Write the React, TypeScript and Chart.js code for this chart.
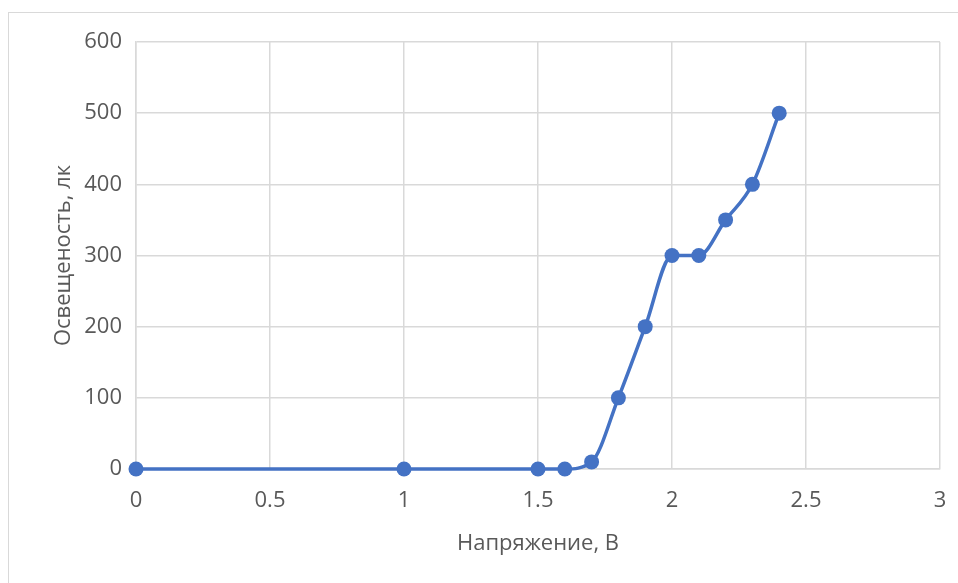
import React, { useEffect, useRef } from "react";
import { Chart, registerables } from "chart.js";

Chart.register(...registerables);

const voltages = [0, 1, 1.5, 1.6, 1.7, 1.8, 1.9, 2, 2.1, 2.2, 2.3, 2.4];
const illuminance = [0, 0, 0, 0, 10, 100, 200, 300, 300, 350, 400, 500];
const xTitle = "Напряжение, В";
const yTitle = "Освещеность, лк";

const FONT = "'Open Sans', 'DejaVu Sans', sans-serif";
const TEXT = "#595959";
const GRID = "#d9d9d9";
const BLUE = "#4472C4";
const FS = 22;

export default function App() {
  const ref = useRef<HTMLCanvasElement>(null);
  useEffect(() => {
    if (!ref.current) return;
    const chart = new Chart(ref.current, {
      type: "scatter",
      data: {
        datasets: [
          {
            data: voltages.map((v, i) => ({ x: v, y: illuminance[i] })),
            showLine: true,
            borderColor: BLUE,
            backgroundColor: BLUE,
            borderWidth: 3.5,
            pointRadius: 7.5,
            pointBorderWidth: 0,
            cubicInterpolationMode: "monotone",
            clip: false,
          } as any,
        ],
      },
      options: {
        responsive: false,
        animation: false,
        layout: { padding: { left: 0, right: 18, top: 42, bottom: 0 } },
        plugins: { legend: { display: false }, tooltip: { enabled: false } },
        scales: {
          x: {
            type: "linear",
            min: 0,
            max: 3,
            afterFit: (s: any) => {
              s.height = 114;
              s.paddingRight = 0;
              s.paddingLeft = 0;
            },
            ticks: {
              stepSize: 0.5,
              color: TEXT,
              font: { family: FONT, size: FS },
              padding: 19,
              callback: (v: any) => String(Number(v)),
            },
            grid: { color: GRID, lineWidth: 1.5, drawTicks: false },
            border: { color: GRID, width: 1.5 },
            title: {
              display: true,
              text: xTitle,
              color: TEXT,
              font: { family: FONT, size: FS },
              padding: { top: 0, bottom: 26 },
            },
          },
          y: {
            min: 0,
            max: 600,
            afterFit: (s: any) => {
              s.width = 136;
            },
            ticks: {
              stepSize: 100,
              color: TEXT,
              font: { family: FONT, size: FS },
              padding: 14,
            },
            grid: { color: GRID, lineWidth: 1.5, drawTicks: false },
            border: { color: GRID, width: 1.5 },
            title: {
              display: true,
              text: yTitle,
              color: TEXT,
              font: { family: FONT, size: FS },
              padding: { top: 51, bottom: 0 },
            },
          },
        },
      },
    });
    return () => chart.destroy();
  }, []);
  return (
    <div style={{ position: "absolute", left: 0, top: 0, width: 958, height: 583, overflow: "hidden", background: "#fff" }}>
      <div
        style={{
          position: "absolute",
          left: 8,
          top: 12,
          width: 1000,
          height: 700,
          border: "1.5px solid #d9d9d9",
        }}
      />
      <canvas ref={ref} width={958} height={583} style={{ position: "absolute", left: 0, top: 0 }} />
    </div>
  );
}
